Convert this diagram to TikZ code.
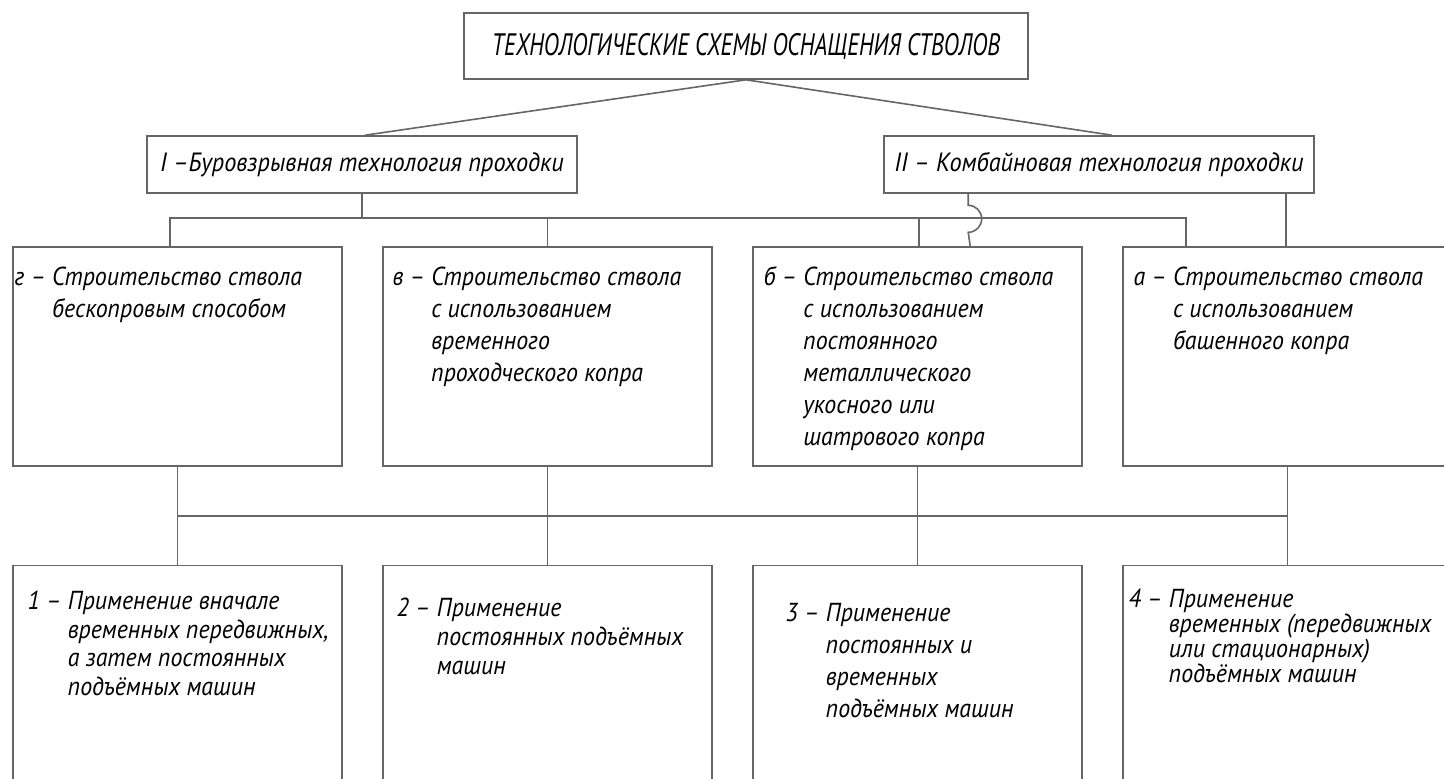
\documentclass[tikz,border=0pt]{standalone}
\usepackage{fontspec}
\newfontfamily\gost{PT Sans}[FakeStretch=0.92]
\newfontfamily\gostcaps{PT Sans}[FakeStretch=0.74]
\usetikzlibrary{positioning, calc}
\tikzset{x=0.5pt, y=-0.5pt,
  box/.style={draw=black!60, line width=0.8pt, inner sep=0pt},
  midbox/.style={box, minimum width=164.5pt, minimum height=109.5pt},
  lowbox/.style={box, minimum width=164.5pt, minimum height=120pt},
  link/.style={draw=black!60, line width=0.8pt},
  txt/.style={inner sep=0pt, anchor=north west, align=left,
    font=\gost\itshape\fontsize{13}{16}\selectfont}}

\begin{document}
\lineskiplimit=-100pt
\begin{tikzpicture}
\useasboundingbox (0,0) rectangle (1444,778);

\node[box, minimum width=282pt, minimum height=33pt,
  font=\gostcaps\itshape\fontsize{15.5}{18}\selectfont] (title) at (746,46)
  {ТЕХНОЛОГИЧЕСКИЕ СХЕМЫ ОСНАЩЕНИЯ СТВОЛОВ};
\node[box, minimum width=215pt, minimum height=28.5pt,
  font=\gost\itshape\fontsize{13.2}{16}\selectfont] (bvr) at (362,164.5)
  {I –Буровзрывная технология проходки};
\node[box, minimum width=215pt, minimum height=28.5pt,
  font=\gost\itshape\fontsize{13.2}{16}\selectfont] (kmb) at (1099,164.5)
  {II – Комбайновая технология проходки};

% schemes
\node[midbox] (g) at (177.5,356.5) {};
\node[midbox, right=19.7pt of g] (v) {};
\node[midbox, right=19.7pt of v] (b) {};
\node[midbox, right=19.7pt of b] (a) {};

% hoisting machines
\node[lowbox, below=49pt of g] (m1) {};
\node[lowbox, below=49pt of v] (m2) {};
\node[lowbox, below=49pt of b] (m3) {};
\node[lowbox, below=49pt of a] (m4) {};

\node[txt] (gt) at ($(g.north west)+(2,20)$)
  {г – Строительство ствола\\\phantom{г – }бескопровым способом};
\node[txt] (vt) at ($(v.north west)+(10,20)$)
  {в – Строительство ствола\\\phantom{в – }с использованием\\\phantom{в – }временного\\\phantom{в – }проходческого копра};
\node[txt] (bt) at ($(b.north west)+(11,20)$)
  {б – Строительство ствола\\\phantom{б – }с использованием\\\phantom{б – }постоянного\\\phantom{б – }металлического\\\phantom{б – }укосного или\\\phantom{б – }шатрового копра};
\node[txt] (at) at ($(a.north west)+(11,20)$)
  {а – Строительство ствола\\\phantom{а – }с использованием\\\phantom{а – }башенного копра};

\node[txt, font=\gost\itshape\fontsize{13}{14.3}\selectfont] (t1) at ($(m1.north west)+(15,26)$)
  {1 – Применение вначале\\\phantom{1 – }временных передвижных,\\\phantom{1 – }а затем постоянных\\\phantom{1 – }подъёмных машин};
\node[txt, font=\gost\itshape\fontsize{13}{14.5}\selectfont] (t2) at ($(m2.north west)+(14,33)$)
  {2 – Применение\\\phantom{2 – }постоянных подъёмных\\\phantom{2 – }машин};
\node[txt] (t3) at ($(m3.north west)+(33,38)$)
  {3 – Применение\\\phantom{3 – }постоянных и\\\phantom{3 – }временных\\\phantom{3 – }подъёмных машин};
\node[txt, font=\gost\itshape\fontsize{13}{12.5}\selectfont] (t4) at ($(m4.north west)+(6,24)$)
  {4 – Применение\\\phantom{4 – }временных (передвижных\\\phantom{4 – }или стационарных)\\\phantom{4 – }подъёмных машин};

% connectors
\draw[link] (title.south) -- ($(bvr.north)+(3,0)$);
\draw[link] (title.south) -- ($(kmb.north)+(13,0)$);

\coordinate (busU) at (0,218);
\coordinate (gUp) at ($(g.north west)+(158,0)$);
\coordinate (aUp) at ($(a.north west)+(64,0)$);
\coordinate (kR) at ($(kmb.south east)+(-29,0)$);
\draw[link] (bvr.south) -- (bvr.south |- busU);
\draw[link] (gUp) -- (gUp |- busU) -- (aUp |- busU) -- (aUp);
\draw[link] (v.north) -- (v.north |- busU);
\draw[link] ($(b.north)+(1.5,0)$) -- ($(b.north)+(1.5,-29)$);
\draw[link] ($(kmb.south west)+(85,0)$) -- ++(0,11.5)
  arc[start angle=90, end angle=-90, radius=6.75pt] -- ($(b.north west)+(218,0)$);
\draw[link] (kR) -- (kR |- a.north);

\coordinate (busL) at (0,516);
\draw[link] (g.south) -- (m1.north);
\draw[link] (v.south) -- (m2.north);
\draw[link] (b.south) -- (m3.north);
\draw[link] (a.south) -- (m4.north);
\draw[link] (g.south |- busL) -- (a.south |- busL);
\end{tikzpicture}
\end{document}
